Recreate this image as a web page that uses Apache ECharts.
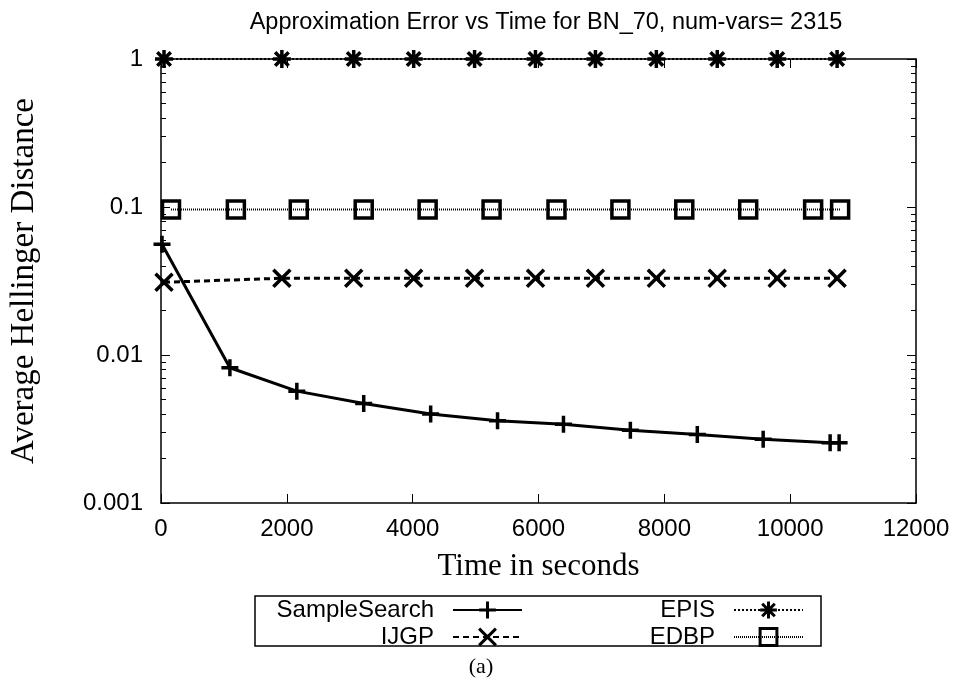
<!DOCTYPE html>
<html>
<head>
<meta charset="utf-8">
<script src="https://cdn.jsdelivr.net/npm/echarts@6/dist/echarts.min.js"></script>
<style>html,body{margin:0;padding:0;background:#fff}#c{width:959px;height:684px}</style>
</head>
<body>
<div id="c"></div>
<script>
// ---- data ----
var titleText = 'Approximation Error vs Time for BN_70, num-vars= 2315';
var xTicks = [0, 2000, 4000, 6000, 8000, 10000, 12000];
var yTicks = [0.001, 0.01, 0.1, 1];
var yMinorTicks = [0.002,0.003,0.004,0.005,0.006,0.007,0.008,0.009,
                   0.02,0.03,0.04,0.05,0.06,0.07,0.08,0.09,
                   0.2,0.3,0.4,0.5,0.6,0.7,0.8,0.9];
var seriesNames = ['SampleSearch', 'IJGP', 'EPIS', 'EDBP'];

var sampleSearchTime = [16, 1095, 2159, 3222, 4286, 5349, 6397, 7460, 8524, 9571, 10635, 10778];
var sampleSearchErr  = [0.056, 0.0082, 0.0057, 0.0047, 0.0040, 0.0036, 0.0034, 0.0031, 0.0029, 0.0027, 0.00255, 0.00255];

var ijgpTime = [48, 1921, 3063, 4016, 4984, 5952, 6905, 7873, 8841, 9794, 10746];
var ijgpErr  = [0.031, 0.033, 0.033, 0.033, 0.033, 0.033, 0.033, 0.033, 0.033, 0.033, 0.033];

var episTime = [48, 1921, 3063, 4016, 4984, 5952, 6905, 7873, 8841, 9794, 10746];
var episErr  = [1, 1, 1, 1, 1, 1, 1, 1, 1, 1, 1];

var edbpTime = [159, 1190, 2190, 3222, 4238, 5254, 6286, 7302, 8317, 9333, 10365, 10794];
var edbpErr  = [0.096, 0.096, 0.096, 0.096, 0.096, 0.096, 0.096, 0.096, 0.096, 0.096, 0.096, 0.096];

function pairs(xs, ys) { return xs.map(function (x, i) { return [x, ys[i]]; }); }

// ---- styling ----
var SANS = 'Liberation Sans, Arial, sans-serif';
var SERIF = 'Liberation Serif, Times New Roman, serif';
var PLUS = 'path://M0,8L16,8M8,0L8,16';
var CROSS = 'path://M0,0L16,16M16,0L0,16';
var STAR = 'path://M0,8L16,8M8,0L8,16M2,2L14,14M14,2L2,14';
var SQUARE = 'path://M0,0L16,0L16,16L0,16Z';

function yAxisCfg(pos, minor, withLabels) {
  return {
    type: 'log', logBase: 10, min: 0.001, max: 1, position: pos,
    axisLine: { show: !minor, lineStyle: { color: '#000', width: 1.5 } },
    axisTick: minor ? { show: true, inside: true, length: 5, customValues: yMinorTicks, lineStyle: { color: '#000', width: 1 } }
                    : { show: true, inside: true, length: 9, customValues: yTicks, lineStyle: { color: '#000', width: 1 } },
    axisLabel: withLabels ? { show: true, customValues: yTicks, color: '#000', fontFamily: SANS, fontSize: 24, margin: 18,
                              formatter: function (v) { return String(v); } } : { show: false },
    splitLine: { show: false },
    name: withLabels ? 'Average Hellinger Distance' : '',
    nameLocation: 'middle', nameRotate: 90, nameGap: 120,
    nameTextStyle: { fontFamily: SERIF, fontSize: 33, color: '#000' }
  };
}

function xAxisCfg(pos, withLabels) {
  return {
    type: 'value', min: 0, max: 12000, interval: 2000, position: pos,
    axisLine: { show: true, lineStyle: { color: '#000', width: 1.5 } },
    axisTick: { show: true, inside: true, length: 9, lineStyle: { color: '#000', width: 1 } },
    axisLabel: withLabels ? { show: true, color: '#000', fontFamily: SANS, fontSize: 24, margin: 14,
                              formatter: function (v) { return String(v); } } : { show: false },
    splitLine: { show: false },
    name: withLabels ? 'Time in seconds' : '',
    nameLocation: 'middle', nameGap: 48,
    nameTextStyle: { fontFamily: SERIF, fontSize: 31, color: '#000' }
  };
}

function legendCfg(name, rightPx, topPx) {
  return {
    data: [name], right: rightPx, top: topPx, orient: 'horizontal', align: 'right',
    padding: 0, itemWidth: 69, itemHeight: 21, selectedMode: false,
    itemStyle: { borderWidth: 3, borderColor: '#000' },
    textStyle: { fontFamily: SANS, fontSize: 24, color: '#000', padding: [0, 14, 0, 0] }
  };
}

var chart = echarts.init(document.getElementById('c'), null, { renderer: 'canvas' });
chart.setOption({
  animation: false,
  backgroundColor: '#fff',
  title: [
    { text: titleText, left: 541, top: 6, textAlign: 'center',
      textStyle: { fontFamily: SANS, fontSize: 23.5, fontWeight: 'normal', color: '#000' } },
    { text: '(a)', left: 476, top: 651, textAlign: 'center',
      textStyle: { fontFamily: SERIF, fontSize: 22, fontWeight: 'normal', color: '#000' } }
  ],
  grid: { left: 160, right: 43, top: 59, bottom: 181, containLabel: false },
  xAxis: [xAxisCfg('bottom', true), xAxisCfg('top', false)],
  yAxis: [yAxisCfg('left', false, true), yAxisCfg('left', true, false),
          yAxisCfg('right', false, false), yAxisCfg('right', true, false)],
  legend: [
    legendCfg('SampleSearch', 959 - 523, 598),
    legendCfg('IJGP', 959 - 523, 625),
    legendCfg('EPIS', 959 - 804, 598),
    legendCfg('EDBP', 959 - 804, 625)
  ],
  graphic: [
    { type: 'rect', shape: { x: 255, y: 596, width: 566, height: 50 },
      style: { fill: 'none', stroke: '#000', lineWidth: 1.5 }, silent: true }
  ],
  series: [
    { name: seriesNames[0], type: 'line', data: pairs(sampleSearchTime, sampleSearchErr), clip: false,
      symbol: PLUS, symbolSize: 17,
      lineStyle: { color: '#000', width: 3, type: 'solid' },
      itemStyle: { color: '#000', borderColor: '#000', borderWidth: 3.5 } },
    { name: seriesNames[1], type: 'line', data: pairs(ijgpTime, ijgpErr), clip: false,
      symbol: CROSS, symbolSize: 17,
      lineStyle: { color: '#000', width: 3, type: [6, 4] },
      itemStyle: { color: '#000', borderColor: '#000', borderWidth: 3.5 } },
    { name: seriesNames[2], type: 'line', data: pairs(episTime, episErr), clip: false,
      symbol: STAR, symbolSize: 18,
      lineStyle: { color: '#000', width: 2, type: [2, 2] },
      itemStyle: { color: '#000', borderColor: '#000', borderWidth: 3.5 } },
    { name: seriesNames[3], type: 'line', data: pairs(edbpTime, edbpErr), clip: false,
      symbol: SQUARE, symbolSize: 17,
      lineStyle: { color: '#000', width: 2, type: [1, 1] },
      itemStyle: { color: 'rgba(0,0,0,0)', borderColor: '#000', borderWidth: 3.5 } }
  ]
});
</script>
</body>
</html>
